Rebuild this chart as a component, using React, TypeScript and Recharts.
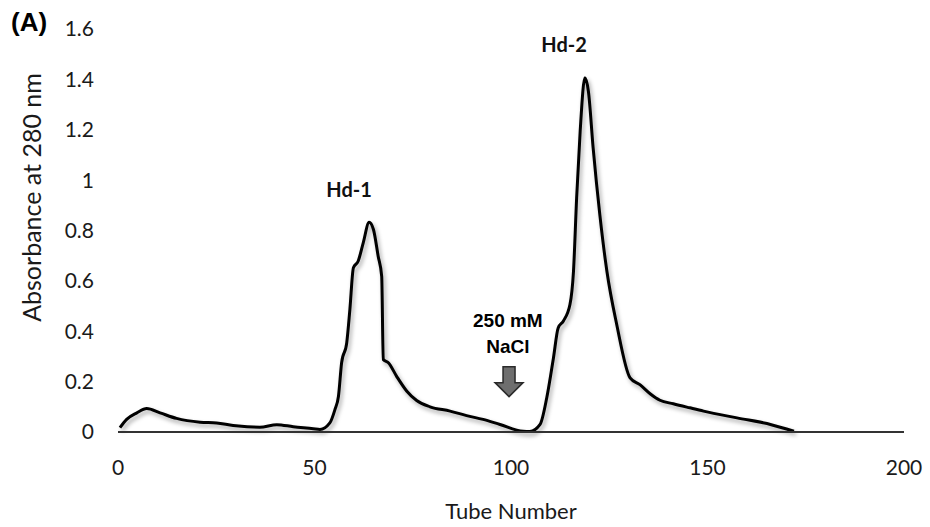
import { LineChart, Line, XAxis, YAxis, ReferenceDot } from "recharts"

// tube number / absorbance
const tubes = [
  0.5, 2.2, 4.8, 7.3, 10.7, 14.9, 20.9, 25.1, 29.3, 36.1, 40.4, 44.6, 49.7, 51.4,
  53.9, 55.2, 56.1, 56.9, 58.2, 59, 59.9, 61.1, 62.4, 63.9, 65, 66.2, 67.1, 67.5, 68.8,
  70.9, 73.5, 76, 79.4, 84.5, 88.7, 92.9, 97.2, 103.1, 104.8, 107.4, 109.1, 110.8, 112,
  113.3, 115, 115.9, 116.7, 117.6, 118.8, 119.7, 120.9, 122.6, 124.4, 126.9, 130.3,
  132.8, 135.4, 137.9, 141.3, 145.5, 149, 157.5, 166, 172,
]
const absorbance = [
  0.017, 0.05, 0.076, 0.093, 0.076, 0.054, 0.039, 0.036, 0.026, 0.019, 0.029, 0.021, 0.013, 0.01,
  0.036, 0.089, 0.142, 0.275, 0.354, 0.486, 0.652, 0.678, 0.751, 0.833, 0.804, 0.698, 0.618, 0.288, 0.275,
  0.221, 0.162, 0.125, 0.1, 0.083, 0.065, 0.05, 0.03, 0.003, 0.002, 0.03, 0.136, 0.294, 0.413,
  0.44, 0.506, 0.638, 0.929, 1.194, 1.406, 1.352, 1.128, 0.863, 0.638, 0.427, 0.215,
  0.188, 0.152, 0.126, 0.112, 0.096, 0.083, 0.056, 0.03, 0.003,
]

const xTicks = [0, 50, 100, 150, 200]
const yTicks = [0, 0.2, 0.4, 0.6, 0.8, 1, 1.2, 1.4, 1.6]

const peakLabels = [
  { x: 58.8, y: 0.962, text: "Hd-1" },
  { x: 113.5, y: 1.537, text: "Hd-2" },
]
const saltLines = [
  { x: 99.2, y: 0.442, text: "250 mM" },
  { x: 99.2, y: 0.339, text: "NaCl" },
]
const arrowAt = { x: 99.5, y: 0.2 }

const data = tubes.map((t, i) => ({ tube: t, abs: absorbance[i] }))

const calibri = "Lato, 'Open Sans', sans-serif"

const Arrow = (props: any) => {
  const { cx, cy } = props
  const d = `M${cx - 6},${cy - 15} L${cx + 6},${cy - 15} L${cx + 6},${cy + 1} L${cx + 14},${cy + 1} L${cx},${cy + 15} L${cx - 14},${cy + 1} L${cx - 6},${cy + 1} Z`
  return <path d={d} fill="#6e6e6e" stroke="#2a2a2a" strokeWidth={1.5} />
}

export default function App() {
  return (
    <div style={{ position: "absolute", left: 0, top: 0, width: 930, height: 527, background: "#fff" }}>
      <div
        style={{
          position: "absolute",
          left: 11,
          top: 9,
          fontFamily: "'Liberation Sans', Arial, sans-serif",
          fontWeight: "bold",
          fontSize: 26,
          lineHeight: "26px",
          color: "#000",
        }}
      >
        (A)
      </div>
      <LineChart width={930} height={527} data={data} margin={{ top: 29, right: 26, left: 0, bottom: 35 }}>
        <XAxis
          dataKey="tube"
          type="number"
          domain={[0, 200]}
          ticks={xTicks}
          height={60}
          tickSize={0}
          tickMargin={28}
          axisLine={{ stroke: "#333", strokeWidth: 2 }}
          tick={{ fill: "#1a1a1a", fontSize: 21, fontFamily: calibri }}
          label={{
            content: ({ viewBox }: any) => (
              <text
                x={viewBox.x + viewBox.width / 2}
                y={viewBox.y + 87}
                textAnchor="middle"
                fill="#1a1a1a"
                fontSize={22}
                fontFamily={calibri}
              >
                Tube Number
              </text>
            ),
          }}
        />
        <YAxis
          type="number"
          domain={[0, 1.6]}
          ticks={yTicks}
          width={118}
          axisLine={false}
          tickLine={false}
          tickSize={0}
          tickMargin={24}
          tick={{ fill: "#1a1a1a", fontSize: 21, fontFamily: calibri }}
          label={{
            content: ({ viewBox }: any) => {
              const cx = viewBox.x + 31
              const cy = viewBox.y + viewBox.height / 2 - 33
              return (
                <text
                  x={cx}
                  y={cy}
                  transform={`rotate(-90 ${cx} ${cy})`}
                  textAnchor="middle"
                  dominantBaseline="central"
                  fill="#1a1a1a"
                  fontSize={25}
                  fontFamily={calibri}
                >
                  Absorbance at 280 nm
                </text>
              )
            },
          }}
        />
        <Line
          type="monotone"
          dataKey="abs"
          stroke="#000"
          strokeWidth={3}
          dot={false}
          isAnimationActive={false}
          style={{ filter: "drop-shadow(2px 3px 2px rgba(0,0,0,0.35))" }}
        />
        {peakLabels.map((p) => (
          <ReferenceDot
            key={p.text}
            x={p.x}
            y={p.y}
            r={0}
            fill="none"
            stroke="none"
            ifOverflow="visible"
            label={{
              value: p.text,
              position: "center",
              fill: "#111",
              fontSize: 20,
              fontWeight: "bold",
              fontFamily: calibri,
            }}
          />
        ))}
        {saltLines.map((p) => (
          <ReferenceDot
            key={p.text}
            x={p.x}
            y={p.y}
            r={0}
            fill="none"
            stroke="none"
            ifOverflow="visible"
            label={{
              value: p.text,
              position: "center",
              fill: "#000",
              fontSize: 19,
              fontWeight: "bold",
              fontFamily: "'Liberation Sans', Arial, sans-serif",
            }}
          />
        ))}
        <ReferenceDot x={arrowAt.x} y={arrowAt.y} r={15} ifOverflow="visible" shape={Arrow} />
      </LineChart>
    </div>
  )
}
